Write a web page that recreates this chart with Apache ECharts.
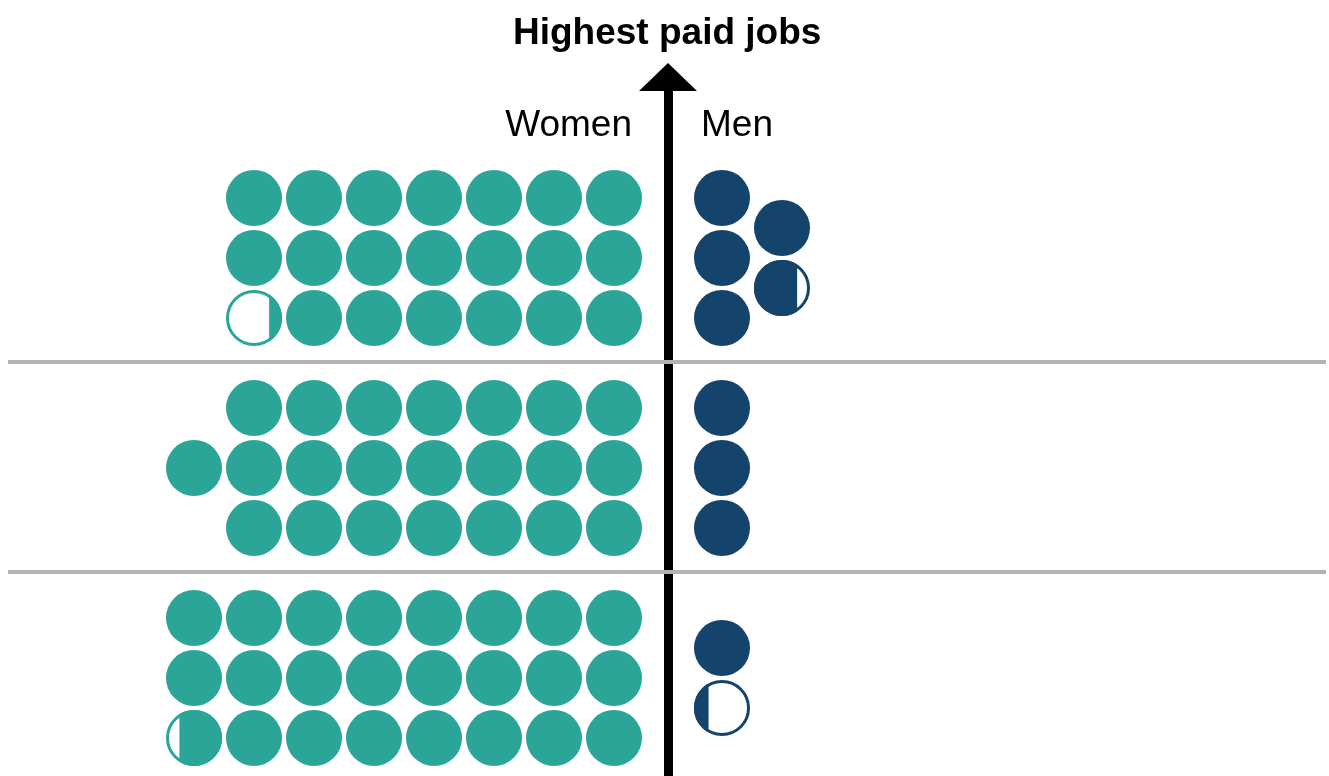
<!DOCTYPE html>
<html lang="en">
<head>
<meta charset="UTF-8">
<title>Highest paid jobs</title>
<script src="https://cdn.jsdelivr.net/npm/echarts@6/dist/echarts.min.js"></script>
<style>
  html, body { margin: 0; padding: 0; background: #fff; }
  #chart { width: 1329px; height: 776px; }
</style>
</head>
<body>
<div id="chart"></div>
<script>
// one dot per unit, the remainder is drawn as a partly filled dot
const bands = ['Band 1', 'Band 2', 'Band 3'];
const womenDots = [20.23, 22, 23.76];
const menDots = [4.77, 3, 1.26];
const sideLabels = ['Women', 'Men'];
const chartTitle = 'Highest paid jobs';

const teal = '#2aa598';
const navy = '#14446c';
const DOTS_PER_COL = 3;
const BAND_STEP = 3.5;   // rows from one band to the next
const FIRST_COL = 0.9;   // gap between the axis and the first column
const DOT_R = 0.467;     // dot radius in column units

function buildDots(values, side) {
    const out = [];
    values.forEach(function (v, b) {
        const n = Math.ceil(v);
        const rest = v - Math.floor(v);
        const cols = Math.ceil(n / DOTS_PER_COL);
        let k = 0;
        for (let c = 0; c < cols; c++) {
            const inCol = Math.min(DOTS_PER_COL, n - c * DOTS_PER_COL);
            const shift = (DOTS_PER_COL - inCol) / 2;
            for (let i = 0; i < inCol; i++) {
                k++;
                const frac = (k === n && rest > 0) ? rest : 1;
                out.push([side * (FIRST_COL + c), -(b * BAND_STEP + shift + i), frac, side, bands[b]]);
            }
        }
    });
    return out;
}

function renderDot(params, api) {
    const p = api.coord([api.value(0), api.value(1)]);
    const r = api.size([DOT_R, 0])[0];
    const frac = api.value(2);
    const side = api.value(3);
    const color = side < 0 ? teal : navy;
    if (frac >= 1) {
        return { type: 'circle', shape: { cx: p[0], cy: p[1], r: r }, style: { fill: color } };
    }
    // partial dot: outline, then a slice filled from the axis side
    const d = side > 0 ? -r + frac * 2 * r : r - frac * 2 * r;
    const a = Math.acos(d / r);
    const from = side > 0 ? a : -a;
    const to = side > 0 ? 2 * Math.PI - a : a;
    const pts = [];
    for (let s = 0; s <= 60; s++) {
        const t = from + (to - from) * s / 60;
        pts.push([p[0] + r * Math.cos(t), p[1] + r * Math.sin(t)]);
    }
    return {
        type: 'group',
        children: [
            { type: 'circle', shape: { cx: p[0], cy: p[1], r: r - 1.5 }, style: { fill: '#fff', stroke: color, lineWidth: 3 } },
            { type: 'polygon', shape: { points: pts }, style: { fill: color } }
        ]
    };
}

const separators = [];
for (let b = 1; b < bands.length; b++) {
    separators.push({ yAxis: -(b * BAND_STEP - 0.77) });
}

const font = '"Liberation Sans", Arial, sans-serif';
const chart = echarts.init(document.getElementById('chart'));
chart.setOption({
    animation: false,
    title: {
        text: chartTitle,
        left: 508,
        top: 10,
        textStyle: { fontFamily: font, fontSize: 37, fontWeight: 'bold', color: '#000' }
    },
    graphic: [
        { type: 'text', x: 632, y: 126, style: { text: sideLabels[0], fontFamily: font, fontSize: 37, fill: '#000', align: 'right', verticalAlign: 'middle' } },
        { type: 'text', x: 701, y: 126, style: { text: sideLabels[1], fontFamily: font, fontSize: 37, fill: '#000', align: 'left', verticalAlign: 'middle' } }
    ],
    grid: { left: 8, right: 3, top: 77, bottom: 0 },
    xAxis: {
        type: 'value', min: -11, max: 10.9667,
        axisLine: { show: false }, axisTick: { show: false }, axisLabel: { show: false }, splitLine: { show: false }
    },
    yAxis: {
        type: 'value', min: -9.6333, max: 2.0167,
        axisLine: {
            show: true, onZero: true,
            symbol: ['none', 'triangle'], symbolSize: [58, 28],
            lineStyle: { color: '#000', width: 9 }
        },
        axisTick: { show: false }, axisLabel: { show: false }, splitLine: { show: false }
    },
    series: [
        {
            name: sideLabels[0],
            type: 'custom',
            renderItem: renderDot,
            data: buildDots(womenDots, -1),
            silent: true,
            markLine: {
                silent: true,
                symbol: ['none', 'none'],
                label: { show: false },
                lineStyle: { color: '#b1b3b4', width: 4, type: 'solid' },
                data: separators
            }
        },
        {
            name: sideLabels[1],
            type: 'custom',
            renderItem: renderDot,
            data: buildDots(menDots, 1),
            silent: true
        }
    ]
});
</script>
</body>
</html>
